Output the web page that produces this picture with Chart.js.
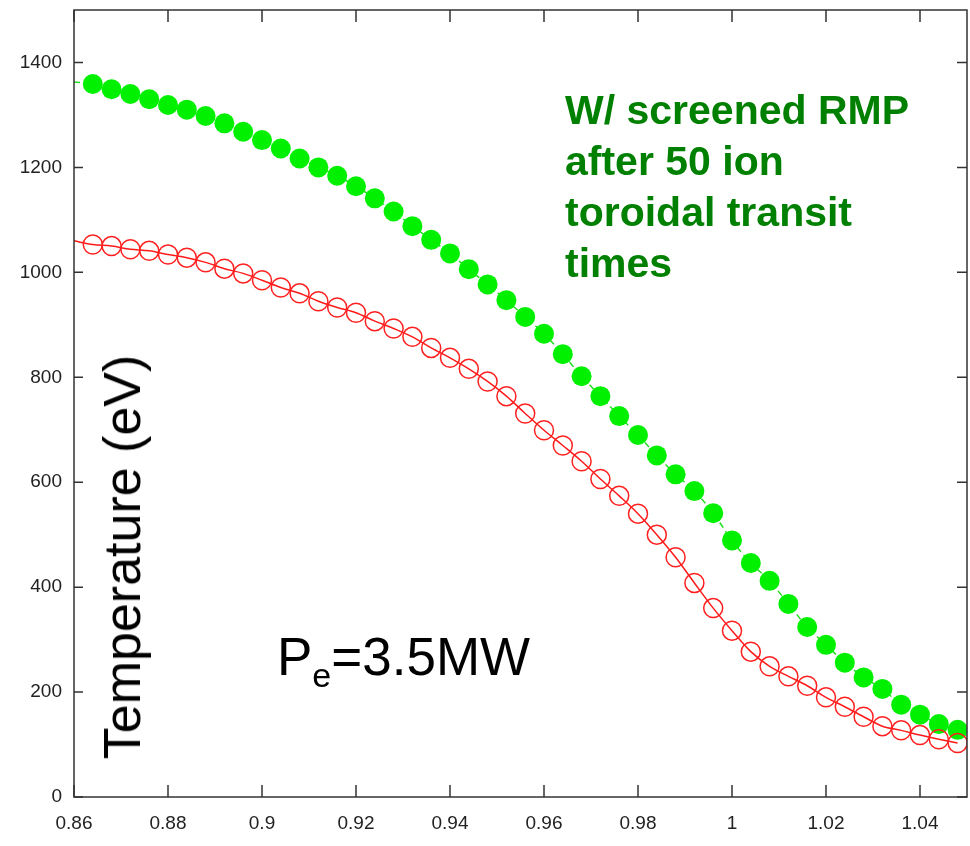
<!DOCTYPE html>
<html>
<head>
<meta charset="utf-8">
<script src="https://cdn.jsdelivr.net/npm/chart.js@4.4.1/dist/chart.umd.min.js"></script>
<style>
  html, body { margin: 0; padding: 0; background: #fff; }
  #wrap { position: relative; width: 970px; height: 846px; font-family: 'Liberation Sans', Arial, sans-serif; }
  #chart { position: absolute; left: 0; top: 0; }
  .note { position: absolute; white-space: nowrap; }
  #ytitle { left: 122px; top: 557px; font-size: 52px; line-height: 1; color: #000;
            transform: translate(-50%, -50%) rotate(-90deg); }
  #power { left: 277px; top: 630px; font-size: 53px; line-height: 1; color: #000; }
  #power span { font-size: 34px; position: relative; top: 12px; }
  #label { left: 565px; top: 85px; font-size: 41px; line-height: 51px; font-weight: bold; color: #008000; }
</style>
</head>
<body>
<div id="wrap">
  <canvas id="chart" width="970" height="846"></canvas>
  <div class="note" id="ytitle">Temperature (eV)</div>
  <div class="note" id="power">P<span>e</span>=3.5MW</div>
  <div class="note" id="label">W/ screened RMP<br>after 50 ion<br>toroidal transit<br>times</div>
</div>
<script>
// ── data (first point at 0.86 is the curve start, drawn without a marker) ──
const rho = [0.86, 0.864, 0.868, 0.872, 0.876, 0.88, 0.884, 0.888, 0.892, 0.896,
             0.9, 0.904, 0.908, 0.912, 0.916, 0.92, 0.924, 0.928, 0.932, 0.936,
             0.94, 0.944, 0.948, 0.952, 0.956, 0.96, 0.964, 0.968, 0.972, 0.976,
             0.98, 0.984, 0.988, 0.992, 0.996, 1.0, 1.004, 1.008, 1.012, 1.016,
             1.02, 1.024, 1.028, 1.032, 1.036, 1.04, 1.044, 1.048];

const tempRmp = [1363, 1359, 1349, 1340, 1330, 1319, 1310, 1298, 1284, 1268,
                 1252, 1236, 1217, 1200, 1184, 1164, 1141, 1116, 1088, 1062,
                 1036, 1006, 977, 947, 915, 883, 844, 802, 764, 726,
                 690, 651, 615, 583, 541, 489, 446, 412, 368, 324,
                 290, 256, 228, 206, 176, 157, 139, 128];

const tempNoRmp = [1060, 1053, 1050, 1044, 1041, 1034, 1028, 1019, 1007, 998,
                   985, 971, 960, 945, 933, 923, 907, 893, 877, 856,
                   837, 816, 792, 764, 731, 699, 670, 640, 606, 574,
                   540, 500, 457, 408, 360, 317, 277, 249, 230, 212,
                   190, 172, 153, 135, 127, 118, 110, 103];

const xTicks = [0.86, 0.88, 0.9, 0.92, 0.94, 0.96, 0.98, 1, 1.02, 1.04];
const yTicks = [0, 200, 400, 600, 800, 1000, 1200, 1400];

const pts = arr => arr.map((v, i) => ({ x: rho[i], y: v }));
const markerOnly = r => ctx => (ctx.dataIndex === 0 ? 0 : r);

// frame box + inward tick marks on all four sides
const frameTicks = {
    id: 'frameTicks',
    afterDraw(chart) {
        const { ctx, chartArea: a, scales: { x, y } } = chart;
        ctx.save();
        ctx.strokeStyle = '#333';
        ctx.lineWidth = 1.5;
        ctx.strokeRect(a.left, a.top, a.right - a.left, a.bottom - a.top);
        ctx.beginPath();
        x.ticks.forEach(t => {
            const px = x.getPixelForValue(t.value);
            ctx.moveTo(px, a.bottom); ctx.lineTo(px, a.bottom - 12);
            ctx.moveTo(px, a.top); ctx.lineTo(px, a.top + 12);
        });
        y.ticks.forEach(t => {
            const py = y.getPixelForValue(t.value);
            ctx.moveTo(a.left, py); ctx.lineTo(a.left + 9, py);
            ctx.moveTo(a.right, py); ctx.lineTo(a.right - 10, py);
        });
        ctx.stroke();
        ctx.restore();
    }
};

const tickFont = { family: "'Liberation Sans', Arial, sans-serif", size: 19 };

new Chart(document.getElementById('chart'), {
    type: 'line',
    data: {
        datasets: [
            {
                label: 'No RMP',
                data: pts(tempNoRmp),
                borderColor: '#ff1a1a',
                borderWidth: 1.5,
                backgroundColor: 'rgba(0,0,0,0)',
                pointStyle: 'circle',
                pointRadius: markerOnly(9.5),
                pointBorderColor: '#ff2020',
                pointBorderWidth: 1.5,
                pointBackgroundColor: 'rgba(0,0,0,0)',
                cubicInterpolationMode: 'monotone'
            },
            {
                label: 'W/ screened RMP',
                data: pts(tempRmp),
                borderColor: '#22dd22',
                borderWidth: 1.5,
                borderDash: [6, 4],
                pointStyle: 'circle',
                pointRadius: markerOnly(10),
                pointBorderWidth: 0,
                pointBackgroundColor: '#00f000',
                cubicInterpolationMode: 'monotone'
            }
        ]
    },
    options: {
        responsive: false,
        animation: false,
        devicePixelRatio: 1,
        layout: { autoPadding: false, padding: { top: 10, right: 3, left: 0, bottom: 0 } },
        plugins: { legend: { display: false }, tooltip: { enabled: false } },
        scales: {
            x: {
                type: 'linear',
                min: 0.86,
                max: 1.05,
                afterBuildTicks: s => { s.ticks = xTicks.map(v => ({ value: v })); },
                afterFit: s => { s.height = 49; s.paddingLeft = 0; s.paddingRight = 0; },
                grid: { display: false, drawTicks: false },
                border: { display: false },
                ticks: { font: tickFont, color: '#222', padding: 15, autoSkip: false, maxRotation: 0,
                         callback: v => String(v) }
            },
            y: {
                min: 0,
                max: 1500,
                afterBuildTicks: s => { s.ticks = yTicks.map(v => ({ value: v })); },
                afterFit: s => { s.width = 74; s.paddingTop = 0; s.paddingBottom = 0; },
                grid: { display: false, drawTicks: false },
                border: { display: false },
                ticks: { font: tickFont, color: '#222', padding: 12, callback: v => String(v) }
            }
        }
    },
    plugins: [frameTicks]
});
</script>
</body>
</html>
